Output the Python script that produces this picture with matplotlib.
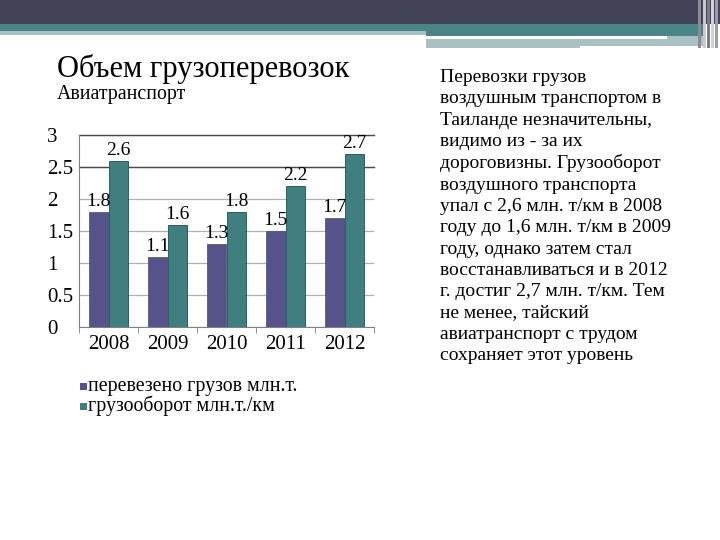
import matplotlib.pyplot as plt
from matplotlib.patches import Rectangle
import numpy as np

years = ['2008', '2009', '2010', '2011', '2012']
cargo = [1.8, 1.1, 1.3, 1.5, 1.7]        # перевезено грузов млн.т.
turnover = [2.6, 1.6, 1.8, 2.2, 2.7]     # грузооборот млн.т./км
yticks = [0, 0.5, 1, 1.5, 2, 2.5, 3]
ytick_labels = ['0', '0.5', '1', '1.5', '2', '2.5', '3']

series_names = ['перевезено грузов млн.т.', 'грузооборот млн.т./км']
title = 'Объем грузоперевозок'
subtitle = 'Авиатранспорт'
body = ('Перевозки грузов\n'
        'воздушным транспортом в\n'
        'Таиланде незначительны,\n'
        'видимо из - за их\n'
        'дороговизны. Грузооборот\n'
        'воздушного транспорта\n'
        'упал с 2,6 млн. т/км в 2008\n'
        'году до 1,6 млн. т/км в 2009\n'
        'году, однако затем стал\n'
        'восстанавливаться и в 2012\n'
        'г. достиг 2,7 млн. т/км. Тем\n'
        'не менее, тайский\n'
        'авиатранспорт с трудом\n'
        'сохраняет этот уровень')

purple = '#56528a'
teal = '#3f7f7f'

plt.rcParams['font.family'] = ['Liberation Serif', 'DejaVu Serif']

W, H = 720, 540
fig = plt.figure(figsize=(7.2, 5.4), dpi=100)
fig.patch.set_facecolor('white')


def band(x0, y0, x1, y1, color):
    # rectangle in pixel coords, y measured from the top
    fig.patches.append(Rectangle((x0 / W, 1 - y1 / H), (x1 - x0) / W, (y1 - y0) / H,
                                 transform=fig.transFigure, color=color, lw=0, zorder=0))


# slide header
band(0, 0, 720, 24, '#424357')
band(0, 24, 426, 31, '#4a8486')
band(0, 31, 426, 35, '#a9c1c2')
band(426, 24, 705, 36, '#4a8486')
band(426, 36, 667, 39, '#ffffff')
band(667, 36, 705, 46, '#a9c1c2')
band(426, 39, 580, 48, '#a9c1c2')
band(580, 39, 667, 46, '#a9c1c2')
for x, c in [(698, '#8a8a9a'), (703, '#c8c8d0'), (707, '#7a7a8a'), (711, '#d0d0d8'), (715, '#9a9aa8')]:
    band(x, 0, x + 3, 48, c)

fig.text(57 / W, 1 - 69 / H, title, fontsize=22, va='center', ha='left')
fig.text(57 / W, 1 - 95 / H, subtitle, fontsize=14.3, va='center', ha='left')
fig.text(440 / W, 1 - 69 / H, body, fontsize=14, va='top', ha='left', linespacing=1.33)

ax = fig.add_axes([79 / W, 1 - 327 / H, 295 / W, 192 / H])
x = np.arange(len(years))
w = 0.33
b1 = ax.bar(x - w / 2, cargo, w, color=purple, edgecolor='#4a467a', lw=0.5, zorder=3)
b2 = ax.bar(x + w / 2, turnover, w, color=teal, edgecolor='#2c5f5f', lw=0.7, zorder=3)
for bars, vals in [(b1, cargo), (b2, turnover)]:
    for r, v in zip(bars, vals):
        ax.text(r.get_x() + r.get_width() / 2, v + 0.03, str(v), ha='center', va='bottom',
                fontsize=14, zorder=4)

ax.set_xlim(-0.5, len(years) - 0.5)
ax.set_ylim(0, 3)
ax.set_yticks(yticks)
ax.set_yticklabels(ytick_labels, fontsize=15)
ax.set_xticks(x)
ax.set_xticklabels(years, fontsize=15)
ax.set_xticks(np.arange(len(years) + 1) - 0.5, minor=True)
ax.tick_params(axis='x', which='major', length=0, pad=6)
ax.tick_params(axis='x', which='minor', length=4, color='#808080')
ax.tick_params(axis='y', length=0, pad=23)
for lab in ax.get_yticklabels():
    lab.set_horizontalalignment('left')
ax.grid(axis='y', color='#b0b0b0', lw=0.9)
# the two top gridlines are drawn darker in the original
for yv in yticks[-2:]:
    ax.axhline(yv, color='#4a4a4a', lw=1.0, zorder=2, clip_on=False)
for s in ['top', 'right']:
    ax.spines[s].set_visible(False)
ax.spines['left'].set_color('#808080')
ax.spines['bottom'].set_color('#808080')

# legend
for i, (name, col) in enumerate(zip(series_names, [purple, teal])):
    yy = 1 - (386 + 20 * i) / H
    fig.patches.append(Rectangle((80 / W, yy - 3.5 / H), 7 / W, 7 / H, transform=fig.transFigure,
                                 color=col, lw=0))
    fig.text(88 / W, yy, name, fontsize=14.3, va='center', ha='left')

fig.savefig('out.png', dpi=100)
